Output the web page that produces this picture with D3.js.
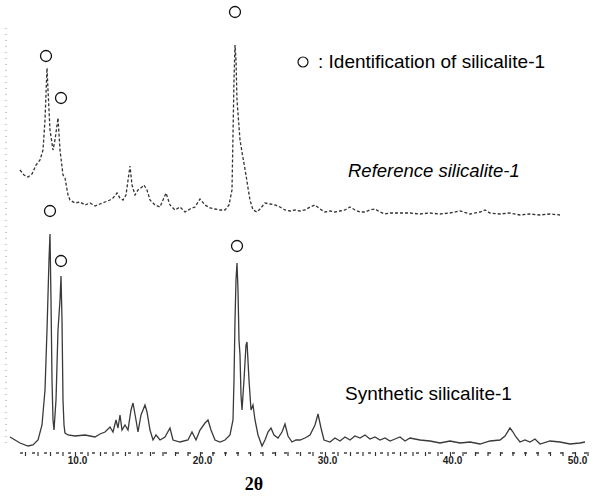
<!DOCTYPE html>
<html>
<head>
<meta charset="utf-8">
<script src="https://cdn.jsdelivr.net/npm/d3@7"></script>
<style>
  body { margin: 0; background: #fff; }
  #chart-container { width: 600px; height: 496px; }
</style>
</head>
<body>
<div id="chart-container"></div>
<script>
let width = 600, height = 496;

// synthetic silicalite-1 (lower pattern)
let synTheta = [4.80,5.60,6.24,6.64,7.04,7.36,7.60,7.76,7.92,8.00,8.08,8.16,8.24,8.32,8.48,8.64,8.80,8.88,8.96,9.04,9.12,9.20,9.44,10.00,10.80,11.60,12.00,12.40,12.80,13.04,13.28,13.44,13.60,13.76,14.00,14.24,14.48,14.64,14.88,15.04,15.28,15.44,15.60,15.76,16.00,16.24,16.48,16.80,17.20,17.60,17.84,18.40,19.04,19.36,19.68,20.00,20.40,20.64,20.88,21.20,21.60,22.00,22.40,22.64,22.72,22.80,22.88,22.96,23.04,23.12,23.20,23.28,23.36,23.52,23.68,23.76,23.92,24.08,24.24,24.40,24.64,24.96,25.20,25.44,25.68,25.92,26.24,26.56,26.80,27.04,27.36,27.68,28.00,28.40,28.80,29.20,29.44,29.68,29.92,30.40,30.80,31.20,31.60,32.00,32.40,32.80,33.20,33.60,34.00,34.40,34.80,35.20,35.60,36.00,36.40,36.80,37.60,38.40,39.20,40.00,40.80,41.60,42.40,43.20,44.00,44.40,44.80,45.04,45.28,45.60,46.00,46.40,46.80,47.20,48.00,48.80,49.60,50.40,50.80];
let synIntensity = [5.5,2.5,1,1.5,4,11.5,29,59,94,107,74,34,14,9,24,59,74,86,64,24,11.5,7.5,6.5,6,6.5,5.5,7,8,10.5,8,14,10,16.5,9,11.5,9,19,22.5,14,8,16.5,19,21.5,18,9,4,6.5,4,5.5,10,4,3,4,8,4,9,12.5,14,9,4,3,4,6.5,14,34,64,84,92.5,79,54,46.5,26.5,19,34,51.5,53,34,19,21.5,14,6.5,1,4,8,10,6.5,5,8,12,6,3,4,4,5,6.5,11.5,17,10,4,3,5,3.5,5.5,4,6,5,6.5,4.5,5.5,4,5,3.5,4.5,5.5,3.5,5,4,3.5,2.5,3.5,2.5,3,2,3.5,4,6,10,8,5.5,3,4,3,4.5,2,3.5,3,2,2.5,3];

// reference silicalite-1 (upper pattern)
let refTheta = [5.60,5.92,6.24,6.56,6.88,7.20,7.44,7.60,7.76,7.84,8.00,8.24,8.40,8.64,8.80,9.04,9.20,9.44,9.60,10.00,10.40,10.80,11.20,11.60,12.00,12.40,12.80,13.04,13.36,13.60,13.84,14.08,14.40,14.56,14.80,15.04,15.36,15.52,15.76,16.00,16.40,16.80,17.04,17.28,17.60,18.00,18.40,18.80,19.20,19.60,20.00,20.40,20.80,21.20,21.60,22.00,22.32,22.56,22.64,22.72,22.80,22.88,22.96,23.20,23.44,23.68,23.84,24.00,24.24,24.56,24.80,25.20,25.60,26.00,26.40,26.80,27.20,27.60,28.00,28.40,28.80,29.20,29.60,30.00,30.40,30.80,31.20,31.60,32.00,32.40,32.80,33.20,33.60,34.00,34.40,34.80,35.20,36.00,36.80,37.60,38.40,39.20,40.00,40.80,41.60,42.40,42.80,43.20,44.00,44.80,45.60,46.40,47.20,48.00,48.80];
let refIntensity = [29,26.5,25.5,27,31.5,34,39,54,80,69,49,39,44,55,39,26.5,25,16.5,14,12.5,13,11.5,12.5,11,12,13,14,15,17.5,15,14,16.5,31,21.5,16.5,19,20.5,21.5,19,14,11.5,10.5,14,17.5,11.5,9,10.5,8,9.5,10.5,14.5,11.5,10,9.5,9,9,11.5,19,46.5,74,91.5,84,64,44,35,26.5,20,14,9,8,9.5,12.5,12,11.5,10.5,9,8.5,9,8.5,9,10.5,11.5,9.5,8,8.5,8,8.5,9,10.5,9,8,8,9,9.5,8,7,7.5,7.5,7.5,7,7.5,7,7.5,8.5,7,8,9,7.5,7,7.5,6.5,7,6.5,7,6.5];
let refOffset = 110;

// identified silicalite-1 reflections (circle markers)
let refMarkTheta = [7.68, 8.88, 22.80];
let refMarkLevel = [86, 65, 108];
let synMarkTheta = [8.00, 8.88, 22.96];
let synMarkLevel = [118.5, 93.5, 101];

let xTicks = [10, 20, 30, 40, 50];
let xTickLabels = ["10.0", "20.0", "30.0", "40.0", "50.0"];

let svg = d3.select("#chart-container")
    .append("svg")
    .attr("width", width)
    .attr("height", height);

let x = d3.scaleLinear()
    .domain([4, 52])
    .range([0, 600]);

let y = d3.scaleLinear()
    .domain([0, 220])
    .range([448, 8]);

// x axis
let minorTicks = d3.range(6, 52, 1);
let xAxis = d3.axisBottom(x)
    .tickValues(minorTicks)
    .tickSize(3)
    .tickFormat(function(d) {
        let i = xTicks.indexOf(d);
        return i >= 0 ? xTickLabels[i] : "";
    });
let gx = svg.append("g")
    .attr("transform", "translate(0,453)")
    .call(xAxis);
gx.select(".domain")
    .attr("stroke", "#444")
    .attr("stroke-width", 1.4)
    .attr("stroke-dasharray", "3,9")
    .attr("d", "M" + x(5.6) + ",0H" + x(51.6));
gx.selectAll(".tick line")
    .attr("stroke", "#333")
    .attr("stroke-width", 1.2)
    .attr("y1", -1);
gx.selectAll(".tick text")
    .attr("dy", "0.45em")
    .attr("dx", "2")
    .style("font-family", "Liberation Sans, Arial, sans-serif")
    .style("font-size", "10px")
    .style("font-weight", "bold")
    .attr("fill", "#222");

// left faint dotted axis
svg.append("line")
    .attr("x1", 6).attr("x2", 6)
    .attr("y1", 28).attr("y2", 448)
    .attr("stroke", "#999")
    .attr("stroke-width", 1)
    .attr("stroke-dasharray", "1,5");

let line = d3.line()
    .x(d => x(d[0]))
    .y(d => y(d[1]));

let synData = synTheta.map((t, i) => [t, synIntensity[i]]);
let refData = refTheta.map((t, i) => [t, refIntensity[i] + refOffset]);

svg.append("path")
    .datum(synData)
    .attr("fill", "none")
    .attr("stroke", "#3a3a3a")
    .attr("stroke-width", 1.3)
    .attr("d", line);

svg.append("path")
    .datum(refData)
    .attr("fill", "none")
    .attr("stroke", "#333")
    .attr("stroke-width", 1.3)
    .attr("stroke-dasharray", "3,2")
    .attr("d", line);

// markers
let marks = refMarkTheta.map((t, i) => [t, refMarkLevel[i] + refOffset])
    .concat(synMarkTheta.map((t, i) => [t, synMarkLevel[i]]));
svg.selectAll("circle.mark")
    .data(marks)
    .enter()
    .append("circle")
    .attr("class", "mark")
    .attr("cx", d => x(d[0]))
    .attr("cy", d => y(d[1]))
    .attr("r", 5.5)
    .attr("fill", "none")
    .attr("stroke", "#111")
    .attr("stroke-width", 1.3);

// legend
svg.append("circle")
    .attr("cx", 303).attr("cy", 62).attr("r", 5)
    .attr("fill", "none")
    .attr("stroke", "#111")
    .attr("stroke-width", 1.2);
svg.append("text")
    .attr("x", 318).attr("y", 68)
    .style("font-family", "Liberation Sans, Arial, sans-serif")
    .style("font-size", "19px")
    .text(":  Identification of silicalite-1");

svg.append("text")
    .attr("x", 348).attr("y", 177)
    .style("font-family", "Liberation Sans, Arial, sans-serif")
    .style("font-size", "18.5px")
    .style("font-style", "italic")
    .text("Reference silicalite-1");

svg.append("text")
    .attr("x", 345).attr("y", 400)
    .style("font-family", "Liberation Sans, Arial, sans-serif")
    .style("font-size", "19px")
    .text("Synthetic silicalite-1");

svg.append("text")
    .attr("x", 254).attr("y", 490)
    .style("text-anchor", "middle")
    .style("font-family", "Liberation Serif, Times New Roman, serif")
    .style("font-size", "18px")
    .style("font-weight", "bold")
    .text("2θ");
</script>
</body>
</html>
